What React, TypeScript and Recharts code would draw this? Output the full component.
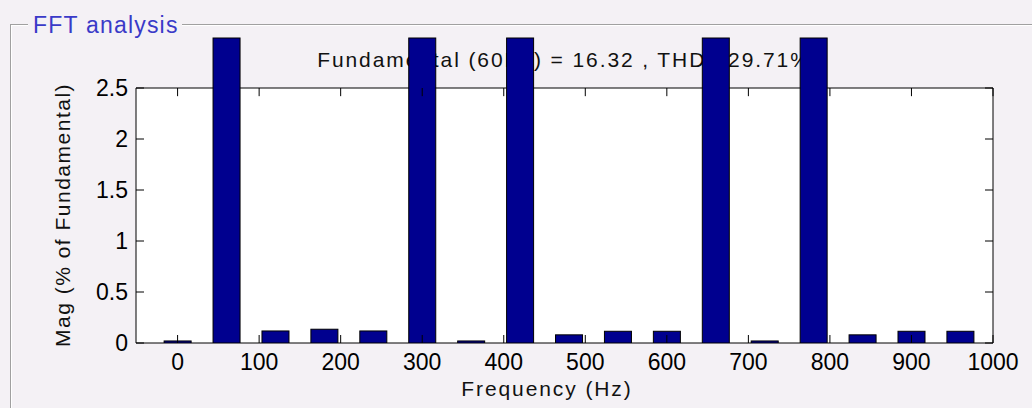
import React from 'react';
import { BarChart, Bar, XAxis, YAxis, ReferenceArea, ReferenceLine } from 'recharts';

// Harmonic frequencies (Hz)
const FREQS = [0, 60, 120, 180, 240, 300, 360, 420, 480, 540, 600, 660, 720, 780, 840, 900, 960];
// Magnitude (% of fundamental)
const MAGS = [0.02, 100, 0.118, 0.135, 0.118, 21.6, 0.02, 15.6, 0.08, 0.115, 0.115, 10.2, 0.02, 8.2, 0.08, 0.115, 0.115];

const X_TICKS = [0, 100, 200, 300, 400, 500, 600, 700, 800, 900, 1000];
const Y_TICKS = [0, 0.5, 1, 1.5, 2, 2.5];
const X_DOMAIN: [number, number] = [-51, 1000];
const Y_TOP = 2.5; // axes box top
const Y_CLIP = 3; // level where tall bars are cut
const TOP_TICK_LEN = 0.08;

const TITLE = 'Fundamental (60Hz) = 16.32 , THD= 29.71%';
const X_LABEL = 'Frequency (Hz)';
const Y_LABEL = 'Mag (% of Fundamental)';
const PANEL_LABEL = 'FFT analysis';

const BG = '#f4f1f5';
const NAVY = '#00008f';
const FONT = '"Liberation Sans", Arial, sans-serif';

const ClippedBar = (props: any) => {
  const { x, y, width, height, background, fill } = props;
  if (width == null || height == null) return null;
  const top = background && typeof background.y === 'number' ? background.y + 1 : 38;
  let y0 = y;
  let h = height;
  if (y0 < top) {
    h = h - (top - y0);
    y0 = top;
  }
  return <rect x={x} y={y0} width={width} height={Math.max(h, 0)} fill={fill} stroke="#000" strokeWidth={1} />;
};

export default function App() {
  const data = FREQS.map((f, i) => ({ freq: f, mag: MAGS[i] }));
  const tickStyle = { fill: '#000', fontSize: 23, fontFamily: FONT };
  return (
    <div style={{ position: 'absolute', left: 0, top: 0, width: 1032, height: 408, background: BG, overflow: 'hidden', fontFamily: FONT }}>
      <svg width={1032} height={408} style={{ position: 'absolute', left: 0, top: 0 }}>
        <line x1={10} y1={24.5} x2={28} y2={24.5} stroke="#a0a0a0" />
        <line x1={182} y1={24.5} x2={1032} y2={24.5} stroke="#a0a0a0" />
        <line x1={11} y1={25.5} x2={28} y2={25.5} stroke="#ffffff" />
        <line x1={182} y1={25.5} x2={1032} y2={25.5} stroke="#ffffff" />
        <line x1={10.5} y1={24} x2={10.5} y2={408} stroke="#a0a0a0" />
        <line x1={11.5} y1={25} x2={11.5} y2={408} stroke="#ffffff" />
        <text x={33} y={33} fill="#3a3ac8" fontSize={23} letterSpacing={1.2} fontFamily={FONT}>{PANEL_LABEL}</text>
        <text x={564} y={67} textAnchor="middle" fill="#111" fontSize={21} letterSpacing={1.9} fontFamily={FONT}>{TITLE}</text>
        <text x={547} y={396} textAnchor="middle" fill="#111" fontSize={21} letterSpacing={1.9} fontFamily={FONT}>{X_LABEL}</text>
        <text transform="translate(70,215) rotate(-90)" textAnchor="middle" fill="#111" fontSize={21} letterSpacing={1.5} fontFamily={FONT}>{Y_LABEL}</text>
      </svg>
      <div style={{ position: 'absolute', left: 0, top: 0 }}>
        <BarChart width={1032} height={408} data={data} margin={{ top: 37, right: 29, bottom: 25, left: 76 }}>
          <XAxis
            xAxisId="x"
            type="number"
            dataKey="freq"
            domain={X_DOMAIN}
            allowDataOverflow
            ticks={X_TICKS}
            interval={0}
            tickSize={-8}
            tickMargin={19}
            axisLine={false}
            tickLine={{ stroke: '#000' }}
            tick={tickStyle}
            height={40}
          />
          <YAxis
            yAxisId="l"
            type="number"
            domain={[0, Y_CLIP]}
            allowDataOverflow
            ticks={Y_TICKS}
            interval={0}
            tickSize={-8}
            tickMargin={16}
            axisLine={false}
            tickLine={{ stroke: '#000' }}
            tick={tickStyle}
            width={60}
          />
          <YAxis
            yAxisId="r"
            orientation="right"
            type="number"
            domain={[0, Y_CLIP]}
            allowDataOverflow
            ticks={Y_TICKS}
            interval={0}
            tickSize={-8}
            tickMargin={2}
            axisLine={false}
            tickLine={{ stroke: '#000' }}
            tickFormatter={() => ''}
            width={10}
          />
          <ReferenceArea
            xAxisId="x"
            yAxisId="l"
            x1={X_DOMAIN[0]}
            x2={X_DOMAIN[1]}
            y1={0}
            y2={Y_TOP}
            fill="#ffffff"
            fillOpacity={1}
            stroke="#000"
            strokeWidth={1}
          />
          {X_TICKS.map((t) => (
            <ReferenceLine
              key={'tt' + t}
              xAxisId="x"
              yAxisId="l"
              segment={[{ x: t, y: Y_TOP }, { x: t, y: Y_TOP - TOP_TICK_LEN }]}
              stroke="#000"
            />
          ))}
          <Bar
            xAxisId="x"
            yAxisId="l"
            dataKey="mag"
            barSize={27}
            fill={NAVY}
            stroke="#000"
            isAnimationActive={false}
            shape={(p: any) => <ClippedBar {...p} />}
          />
        </BarChart>
      </div>
    </div>
  );
}
